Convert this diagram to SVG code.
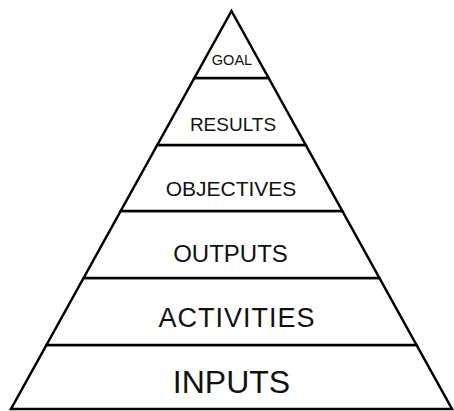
<svg xmlns="http://www.w3.org/2000/svg" width="454" height="411" viewBox="0 0 454 411">
<style>
.tier{fill:#fff;stroke:#000;stroke-width:2.5;stroke-linejoin:miter}
.lbl{font-family:"Liberation Sans",Arial,sans-serif;fill:#111;text-anchor:middle}
</style>
<rect width="454" height="411" fill="#fff"/>
<g id="inputs"><polygon class="tier" points="46.5,345 416.5,345 452,409 11,409"/><text class="lbl" x="231.5" y="393" font-size="32">INPUTS</text></g>
<g id="activities"><polygon class="tier" points="83.6,278 379.4,278 416.5,345 46.5,345"/><text class="lbl" x="237" y="327" font-size="27" letter-spacing="1">ACTIVITIES</text></g>
<g id="outputs"><polygon class="tier" points="120.7,211 342.3,211 379.4,278 83.6,278"/><text class="lbl" x="230.5" y="262" font-size="24">OUTPUTS</text></g>
<g id="objectives"><polygon class="tier" points="157.3,145 305.7,145 342.3,211 120.7,211"/><text class="lbl" x="231" y="196" font-size="21">OBJECTIVES</text></g>
<g id="results"><polygon class="tier" points="194.4,78 268.6,78 305.7,145 157.3,145"/><text class="lbl" x="233" y="131" font-size="19">RESULTS</text></g>
<g id="goal"><polygon class="tier" points="231.5,11 268.6,78 194.4,78"/><text class="lbl" x="232" y="65" font-size="14.5" fill="#333">GOAL</text></g>
</svg>
